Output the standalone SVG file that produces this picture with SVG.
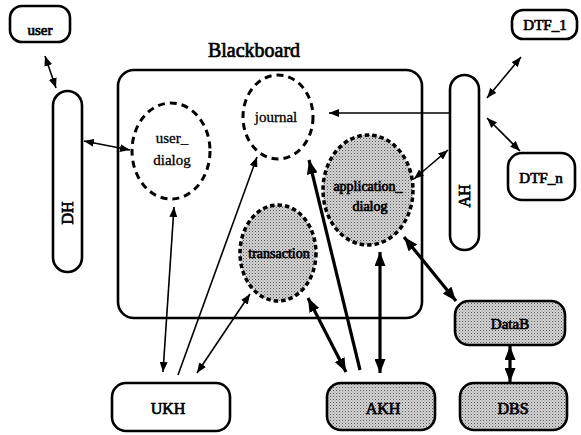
<svg xmlns="http://www.w3.org/2000/svg" width="581" height="435" viewBox="0 0 581 435">
<style>
text{font-family:"Liberation Serif","Times New Roman",serif;fill:#000;text-anchor:middle}
.b{stroke:#000;stroke-width:0.7}
.box{fill:#fff;stroke:#000;stroke-width:2.6}
.sbox{fill:url(#dots);stroke:#000;stroke-width:2.6}
.dash{fill:#fff;stroke:#000;stroke-width:3;stroke-dasharray:7 5}
.sdash{fill:url(#dots);stroke:#000;stroke-width:3.5;stroke-dasharray:4.5 3}
.thin{stroke:#000;stroke-width:1.6;fill:none}
.thick{stroke:#000;stroke-width:3.2;fill:none}
</style>
<defs>
<pattern id="dots" width="3" height="3" patternUnits="userSpaceOnUse">
<rect width="3" height="3" fill="#d4d4d4"/>
<rect width="1" height="1" fill="#555"/>
<rect x="1.5" y="1.5" width="1" height="1" fill="#888"/>
</pattern>
<marker id="ah" markerUnits="userSpaceOnUse" markerWidth="10" markerHeight="8" refX="10" refY="4" orient="auto-start-reverse"><path d="M0,0 L10,4 L0,8 z" fill="#000"/></marker>
<marker id="ahT" markerUnits="userSpaceOnUse" markerWidth="14" markerHeight="11" refX="14" refY="5.5" orient="auto-start-reverse"><path d="M0,0 L14,5.5 L0,11 z" fill="#000"/></marker>
</defs>
<rect width="581" height="435" fill="#fff"/>
<g id="blackboard">
<rect x="118" y="70" width="304" height="248" rx="16" fill="none" stroke="#000" stroke-width="2.6"/>
<text x="254" y="57" class="b" font-size="20">Blackboard</text>
</g>
<g id="connectors">
<line class="thin" x1="45" y1="56" x2="56" y2="88" marker-start="url(#ah)" marker-end="url(#ah)"/>
<line class="thin" x1="84" y1="141" x2="130" y2="150" marker-start="url(#ah)" marker-end="url(#ah)"/>
<line class="thin" x1="174" y1="207" x2="163" y2="372" marker-start="url(#ah)" marker-end="url(#ah)"/>
<line class="thin" x1="178" y1="375" x2="257" y2="157" marker-end="url(#ah)"/>
<line class="thin" x1="197" y1="373" x2="250" y2="294" marker-start="url(#ah)" marker-end="url(#ah)"/>
<line class="thick" x1="360" y1="370" x2="309" y2="160" marker-end="url(#ahT)"/>
<line class="thick" x1="346" y1="372" x2="308" y2="298" marker-start="url(#ahT)" marker-end="url(#ahT)"/>
<line class="thick" x1="380" y1="373" x2="380" y2="252" marker-start="url(#ahT)" marker-end="url(#ahT)"/>
<line class="thin" x1="414" y1="179" x2="448" y2="150" marker-start="url(#ah)" marker-end="url(#ah)"/>
<line class="thick" x1="404" y1="237" x2="456" y2="301" marker-start="url(#ahT)" marker-end="url(#ahT)"/>
<line class="thick" x1="510" y1="346" x2="510" y2="382" marker-start="url(#ahT)" marker-end="url(#ahT)"/>
<line class="thin" x1="450" y1="113" x2="329" y2="113" stroke-width="2" marker-end="url(#ah)"/>
<line class="thin" x1="521" y1="57" x2="487" y2="98" marker-start="url(#ah)" marker-end="url(#ah)"/>
<line class="thin" x1="487" y1="118" x2="520" y2="151" marker-start="url(#ah)" marker-end="url(#ah)"/>
</g>
<g id="user">
<rect class="box" x="10" y="6" width="60" height="36" rx="12"/>
<text x="40" y="35" class="b" font-size="15">user</text>
</g>
<g id="DH">
<rect class="box" x="53" y="91" width="29" height="181" rx="14.5"/>
<text transform="translate(73,213) rotate(-90)" class="b" font-size="16">DH</text>
</g>
<g id="AH">
<rect class="box" x="450" y="75" width="29" height="175" rx="14.5"/>
<text transform="translate(470,196) rotate(-90)" class="b" font-size="16">AH</text>
</g>
<g id="DTF_1">
<rect class="box" x="512" y="10" width="65" height="29" rx="11"/>
<text x="545" y="30" class="b" font-size="15">DTF_1</text>
</g>
<g id="DTF_n">
<rect class="box" x="508" y="153" width="67" height="47" rx="14"/>
<text x="541" y="183" class="b" font-size="15">DTF_n</text>
</g>
<g id="journal">
<ellipse class="dash" cx="278" cy="117" rx="35" ry="42"/>
<text x="276" y="122" font-size="15" stroke="#000" stroke-width="0.3">journal</text>
</g>
<g id="user_dialog">
<ellipse class="dash" cx="171" cy="151" rx="39" ry="48"/>
<text x="172" y="143" font-size="15" stroke="#000" stroke-width="0.3">user_</text>
<text x="172" y="165" font-size="15" stroke="#000" stroke-width="0.3">dialog</text>
</g>
<g id="application_dialog">
<ellipse class="sdash" cx="368" cy="190" rx="45" ry="55"/>
<text x="368" y="191" class="b" font-size="14">application_</text>
<text x="370" y="211" class="b" font-size="14">dialog</text>
</g>
<g id="transaction">
<ellipse class="sdash" cx="278" cy="253" rx="38" ry="48"/>
<text x="279" y="258" class="b" font-size="14">transaction</text>
</g>
<g id="UKH">
<rect class="box" x="112" y="383" width="118" height="48" rx="14"/>
<text x="168" y="414" class="b" font-size="16">UKH</text>
</g>
<g id="AKH">
<rect class="sbox" x="327" y="383" width="108" height="47" rx="14"/>
<text x="383" y="414" class="b" font-size="16">AKH</text>
</g>
<g id="DataB">
<rect class="sbox" x="455" y="301" width="110" height="44" rx="14"/>
<text x="510" y="329" class="b" font-size="15">DataB</text>
</g>
<g id="DBS">
<rect class="sbox" x="460" y="383" width="107" height="47" rx="14"/>
<text x="513" y="414" class="b" font-size="16">DBS</text>
</g>
</svg>
